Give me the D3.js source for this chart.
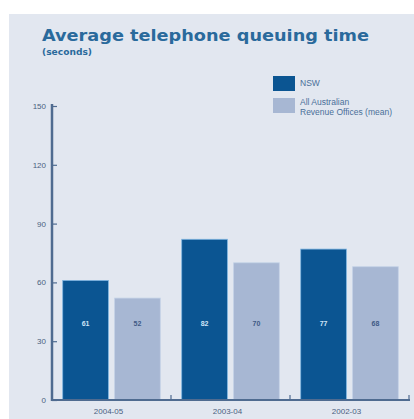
<!DOCTYPE html>
<html>
<head>
<meta charset="utf-8">
<script src="https://cdn.jsdelivr.net/npm/d3@7"></script>
<style>
  body { margin: 0; background: #fff; }
  svg { display: block; font-family: "Liberation Sans", Arial, sans-serif; }
</style>
</head>
<body>
<svg width="414" height="419"></svg>
<script>
// data
let years = ["2004-05", "2003-04", "2002-03"]
let nsw = [61, 82, 77]
let allOffices = [52, 70, 68]
let seriesNames = ["NSW", "All Australian Revenue Offices (mean)"]
let yTicks = [0, 30, 60, 90, 120, 150]

let colors = ["#0b5592", "#a7b7d3"]
let w = 414, h = 419

let svg = d3.select('svg')

// panel background
svg.append('rect')
  .attr('x', 9).attr('y', 14)
  .attr('width', w - 9).attr('height', h - 14)
  .attr('fill', '#e2e7f0')

// title
svg.append('text')
  .text("Average telephone queuing time")
  .attr('x', 42).attr('y', 41)
  .attr('font-weight', 'bold')
  .attr('font-size', 16)
  .attr('font-family', '"DejaVu Sans", sans-serif')
  .attr('textLength', 327)
  .attr('lengthAdjust', 'spacingAndGlyphs')
  .attr('fill', '#2a6a9c')

svg.append('text')
  .text("(seconds)")
  .attr('x', 42).attr('y', 55)
  .attr('font-weight', 'bold')
  .attr('font-size', 9)
  .attr('font-family', '"DejaVu Sans", sans-serif')
  .attr('textLength', 50)
  .attr('lengthAdjust', 'spacingAndGlyphs')
  .attr('fill', '#2a6a9c')

// scales
let yScale = d3.scaleLinear()
  .domain([0, 150])
  .range([400, 106])

let x0 = d3.scaleBand()
  .domain(years)
  .range([52, 409])
  .paddingInner(0.18)
  .paddingOuter(0.09)

let x1 = d3.scaleBand()
  .domain([0, 1])
  .range([0, x0.bandwidth()])
  .paddingInner(0.12)

let rows = years.map((yr, i) => ({ year: yr, values: [nsw[i], allOffices[i]] }))

// bars
let groups = svg.selectAll('g.group')
  .data(rows)
  .enter()
  .append('g')
  .attr('class', 'group')
  .attr('transform', d => `translate(${x0(d.year)},0)`)

groups.selectAll('rect')
  .data(d => d.values)
  .enter()
  .append('rect')
  .attr('x', (d, i) => x1(i))
  .attr('y', d => yScale(d))
  .attr('width', x1.bandwidth())
  .attr('height', d => yScale(0) - yScale(d))
  .attr('fill', (d, i) => colors[i])
  .attr('stroke', (d, i) => i == 0 ? '#7fb4e0' : '#c4d2e6')
  .attr('stroke-width', 0.8)

// value labels, all at the same height
groups.selectAll('text.val')
  .data(d => d.values)
  .enter()
  .append('text')
  .attr('class', 'val')
  .attr('x', (d, i) => x1(i) + x1.bandwidth() / 2)
  .attr('y', yScale(38))
  .attr('text-anchor', 'middle')
  .attr('font-size', 7)
  .attr('font-weight', 'bold')
  .attr('fill', (d, i) => i == 0 ? '#cfe4f7' : '#3f5a85')
  .text(d => d)

// y axis
let axisColor = '#4f6b90'
let yAxis = d3.axisRight(yScale)
  .tickValues(yTicks)
  .tickSize(5)
  .tickFormat('')
let yg = svg.append('g')
  .attr('transform', 'translate(52,0)')
  .call(yAxis)
yg.select('.domain').remove()
yg.selectAll('.tick line').attr('stroke', axisColor).attr('stroke-width', 1.2)

svg.append('line')
  .attr('x1', 52).attr('x2', 52)
  .attr('y1', yScale(150) - 2).attr('y2', yScale(0) + 1)
  .attr('stroke', axisColor).attr('stroke-width', 2.5)

svg.selectAll('text.ytick')
  .data(yTicks)
  .enter()
  .append('text')
  .attr('class', 'ytick')
  .attr('x', 46)
  .attr('y', d => yScale(d) + 3)
  .attr('text-anchor', 'end')
  .attr('font-size', 8)
  .attr('fill', '#4a5f80')
  .text(d => d)

// x axis
svg.append('line')
  .attr('x1', 52).attr('x2', 410)
  .attr('y1', yScale(0)).attr('y2', yScale(0))
  .attr('stroke', axisColor).attr('stroke-width', 2)

let bounds = years.slice(1).map(yr => x0(yr) - x0.step() * x0.paddingInner() / 2)
bounds.push(409)
svg.selectAll('line.xtick')
  .data(bounds)
  .enter()
  .append('line')
  .attr('class', 'xtick')
  .attr('x1', d => d).attr('x2', d => d)
  .attr('y1', yScale(0)).attr('y2', yScale(0) - 5)
  .attr('stroke', axisColor).attr('stroke-width', 1.2)

svg.selectAll('text.xlab')
  .data(years)
  .enter()
  .append('text')
  .attr('class', 'xlab')
  .attr('x', d => x0(d) + x0.bandwidth() / 2 - 3)
  .attr('y', 414)
  .attr('text-anchor', 'middle')
  .attr('font-size', 8)
  .attr('fill', '#4a5f80')
  .text(d => d)

// legend
let legend = svg.append('g').attr('transform', 'translate(273,76)')
legend.selectAll('rect')
  .data(seriesNames)
  .enter()
  .append('rect')
  .attr('x', 0)
  .attr('y', (d, i) => i * 22)
  .attr('width', 22)
  .attr('height', 15)
  .attr('fill', (d, i) => colors[i])

legend.append('text')
  .attr('x', 27).attr('y', 10)
  .attr('font-size', 8.5)
  .attr('fill', '#4a6f99')
  .text(seriesNames[0])

let lt = legend.append('text')
  .attr('x', 27).attr('y', 29)
  .attr('font-size', 8.5)
  .attr('fill', '#4a6f99')
lt.append('tspan').attr('x', 27).text("All Australian")
lt.append('tspan').attr('x', 27).attr('dy', 10).text("Revenue Offices (mean)")
</script>
</body>
</html>
